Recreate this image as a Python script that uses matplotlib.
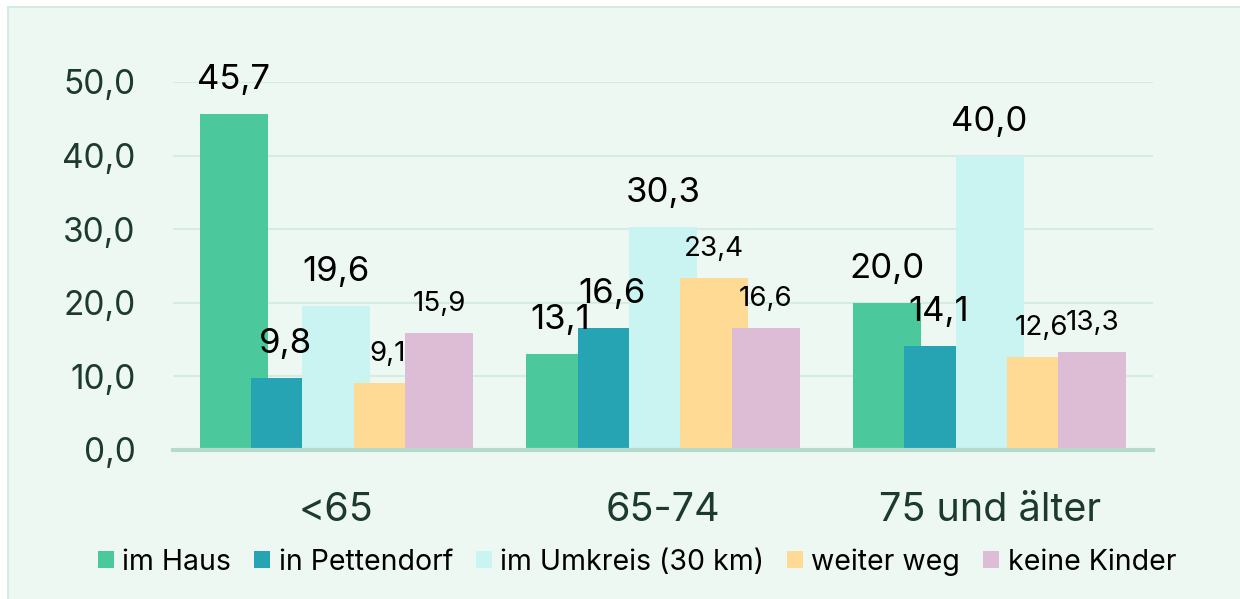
import matplotlib
matplotlib.use("Agg")
import matplotlib.pyplot as plt
import numpy as np
from matplotlib.patches import Patch, Rectangle

# ---- data ----
categories = ["<65", "65-74", "75 und älter"]
series_names = ["im Haus", "in Pettendorf", "im Umkreis (30 km)", "weiter weg", "keine Kinder"]
im_haus = [45.7, 13.1, 20.0]
in_pettendorf = [9.8, 16.6, 14.1]
im_umkreis = [19.6, 30.3, 40.0]
weiter_weg = [9.1, 23.4, 12.6]
keine_kinder = [15.9, 16.6, 13.3]
y_ticks = [0, 10, 20, 30, 40, 50]

series_values = [im_haus, in_pettendorf, im_umkreis, weiter_weg, keine_kinder]
colors = ["#4BC99C", "#27A4B4", "#C9F4F1", "#FEDA95", "#DDBCD5"]
label_sizes = [25, 25, 25, 20, 20]
label_offsets = [24.5, 24.5, 24.5, 21, 21]

FONT = ["Inter", "DejaVu Sans"]
plt.rcParams["font.family"] = FONT

BG = "#EEF8F3"
DARK = "#1C3A2F"

fig = plt.figure(figsize=(12.4, 5.99), dpi=100)
fig.patch.set_facecolor("white")
bg_rect = Rectangle((8 / 1240, -0.01), 1.0, 1 - 7 / 599 + 0.01,
                    transform=fig.transFigure, facecolor=BG,
                    edgecolor="#D3ECE1", linewidth=1.5, zorder=-10)
fig.add_artist(bg_rect)

ax = fig.add_axes([173 / 1240, 1 - 450 / 599, 980 / 1240, 368 / 599])
ax.set_zorder(5)
ax.set_facecolor("none")

x = np.arange(len(categories))
pitch = 0.157
width = 0.208
for i, (vals, name, col) in enumerate(zip(series_values, series_names, colors)):
    xpos = x + (i - 2) * pitch
    ax.bar(xpos, vals, width=width, color=col, label=name, zorder=2 + i)
    for xp, v in zip(xpos, vals):
        ax.annotate(f"{v:.1f}".replace(".", ","), (xp, v),
                    xytext=(0, label_offsets[i]), textcoords="offset points",
                    ha="center", va="center", fontsize=label_sizes[i],
                    color="black", zorder=20, annotation_clip=False)

ax.set_xlim(-0.5, 2.5)
ax.set_ylim(0, 50)
ax.set_yticks(y_ticks)
ax.set_yticklabels([f"{t:.1f}".replace(".", ",") for t in y_ticks],
                   fontsize=24, color=DARK)
ax.set_xticks(x)
ax.set_xticklabels(categories, fontsize=28.5, color=DARK)
ax.tick_params(axis="y", length=0, pad=27)
ax.tick_params(axis="x", length=0, pad=30)
for s in ["top", "right", "left"]:
    ax.spines[s].set_visible(False)
ax.spines["bottom"].set_color("#B6DBCB")
ax.spines["bottom"].set_linewidth(3)
ax.spines["bottom"].set_zorder(10)
ax.yaxis.grid(True, color="#D5ECE2", linewidth=1.5, zorder=0)
ax.set_axisbelow(True)

handles = [Patch(facecolor=c, edgecolor="none") for c in colors]
leg = fig.legend(handles, series_names, loc="center", ncol=5,
                 bbox_to_anchor=(637 / 1240, 1 - 562 / 599), frameon=False,
                 fontsize=20.5, handlelength=0.56, handleheight=0.56,
                 handletextpad=0.3, columnspacing=0.8, borderpad=0)
for t in leg.get_texts():
    t.set_color("black")

fig.savefig("out.png", dpi=100, facecolor=fig.get_facecolor())
